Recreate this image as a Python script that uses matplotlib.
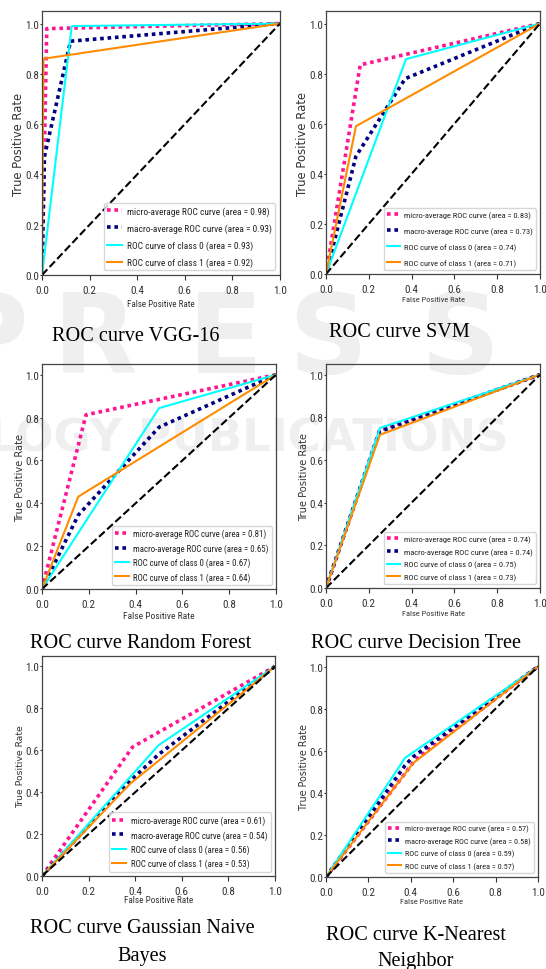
import matplotlib
matplotlib.use("Agg")
import matplotlib.pyplot as plt

W, H = 546, 970
NARROW = ['Liberation Sans Narrow', 'Roboto Condensed', 'DejaVu Sans Condensed', 'Liberation Sans']
SERIF = ['Liberation Serif', 'DejaVu Serif']

# ---------------- data ----------------
series_names = ["micro-average ROC curve", "macro-average ROC curve",
                "ROC curve of class 0", "ROC curve of class 1"]
tick_values = [0.0, 0.2, 0.4, 0.6, 0.8, 1.0]
tick_labels = ["0.0", "0.2", "0.4", "0.6", "0.8", "1.0"]

captions = [["ROC curve VGG-16"], ["ROC curve SVM"],
            ["ROC curve Random Forest"], ["ROC curve Decision Tree"],
            ["ROC curve Gaussian Naive", "Bayes"], ["ROC curve K-Nearest", "Neighbor"]]

# order of curves: micro, macro, class 0, class 1
vgg_fpr = [[0, 0.02, 1], [0, 0.01, 0.12, 1], [0, 0.125, 1], [0, 0.006, 1]]
vgg_tpr = [[0, 0.98, 1], [0, 0.47, 0.93, 1], [0, 0.99, 1], [0, 0.86, 1]]
vgg_area = [0.98, 0.93, 0.93, 0.92]

svm_fpr = [[0, 0.16, 1], [0, 0.14, 0.37, 1], [0, 0.374, 1], [0, 0.14, 1]]
svm_tpr = [[0, 0.835, 1], [0, 0.47, 0.78, 1], [0, 0.858, 1], [0, 0.59, 1]]
svm_area = [0.83, 0.73, 0.74, 0.71]

rf_fpr = [[0, 0.188, 1], [0, 0.155, 0.5, 1], [0, 0.5, 1], [0, 0.155, 1]]
rf_tpr = [[0, 0.813, 1], [0, 0.345, 0.755, 1], [0, 0.844, 1], [0, 0.431, 1]]
rf_area = [0.81, 0.65, 0.67, 0.64]

dt_fpr = [[0, 0.25, 1], [0, 0.25, 1], [0, 0.252, 1], [0, 0.252, 1]]
dt_tpr = [[0, 0.74, 1], [0, 0.733, 1], [0, 0.75, 1], [0, 0.718, 1]]
dt_area = [0.74, 0.74, 0.75, 0.73]

gnb_fpr = [[0, 0.389, 1], [0, 0.38, 0.5, 1], [0, 0.5, 1], [0, 0.378, 1]]
gnb_tpr = [[0, 0.616, 1], [0, 0.455, 0.58, 1], [0, 0.624, 1], [0, 0.44, 1]]
gnb_area = [0.61, 0.54, 0.56, 0.53]

knn_fpr = [[0, 0.42, 1], [0, 0.373, 0.41, 1], [0, 0.373, 1], [0, 0.41, 1]]
knn_tpr = [[0, 0.555, 1], [0, 0.53, 0.57, 1], [0, 0.566, 1], [0, 0.54, 1]]
knn_area = [0.57, 0.58, 0.59, 0.57]

models = [(vgg_fpr, vgg_tpr, vgg_area), (svm_fpr, svm_tpr, svm_area),
          (rf_fpr, rf_tpr, rf_area), (dt_fpr, dt_tpr, dt_area),
          (gnb_fpr, gnb_tpr, gnb_area), (knn_fpr, knn_tpr, knn_area)]

# ---------------- layout (pixels: left, top, right, bottom) ----------------
boxes = [(42, 12, 280, 276), (326, 12, 540, 275),
         (42, 365, 276, 590), (326, 365, 540, 589),
         (42, 657, 275, 877), (326, 657, 538, 878)]
leg_size = [6.75, 6.0, 6.3, 6.0, 6.4, 5.9]
leg_spacing = [0.8, 1.0, 0.55, 0.6, 0.55, 0.6]
ylab_size = [8.3, 8.4, 7.1, 7.1, 6.7, 6.9]
xlab_size = [6.5, 6.0, 6.8, 6.0, 6.6, 6.0]
xlab_off = [25, 23, 23, 23, 20, 22]
cap_x = [136, 399, 141, 416, 142, 416]
cap_base = [[341], [337], [648], [648], [933, 961], [940, 966]]

fig = plt.figure(figsize=(W / 100, H / 100), dpi=100)
fig.patch.set_facecolor('white')

# faint publisher watermark in the background
wm = '#efefef'
for ch, cx in zip("PRESS", [-12, 95, 225, 328, 460]):
    fig.text(cx / W, 1 - 373 / H, ch, fontsize=79, fontweight='bold', color=wm,
             ha='center', va='baseline', family='DejaVu Sans', zorder=-10)
fig.text(-12 / W, 1 - 451 / H, "LOGY PUBLICATIONS", fontsize=32.5, fontweight='bold',
         color=wm, ha='left', va='baseline', family='DejaVu Sans', zorder=-10)

styles = [dict(color='deeppink', lw=2.6, linestyle=(0, (1, 1.05))),
          dict(color='navy', lw=2.6, linestyle=(0, (1, 1.05))),
          dict(color='aqua', lw=1.5),
          dict(color='darkorange', lw=1.5)]

for i in range(6):
    l, t, r, b = boxes[i]
    w, h = r - l, b - t
    ax = fig.add_axes([l / W, 1 - b / H, w / W, h / H])
    ax.patch.set_alpha(0)
    fpr, tpr, area = models[i]
    for k in range(4):
        ax.plot(fpr[k], tpr[k], label=f"{series_names[k]} (area = {area[k]:.2f})", **styles[k])
    ax.plot([0, 1], [0, 1], 'k--', lw=1.5)
    ax.set_xlim(0.0, 1.0)
    ax.set_ylim(0.0, 1.05)
    ax.set_xticks(tick_values, tick_labels)
    ax.set_yticks(tick_values, tick_labels)
    ax.tick_params(axis='x', labelsize=8, labelfontfamily=NARROW, length=3.5, pad=3.5, colors='#333333')
    ax.tick_params(axis='y', labelsize=8, labelfontfamily=NARROW, length=1.6, pad=0.6, colors='#333333')
    for sp in ax.spines.values():
        sp.set_color('#444444')
        sp.set_linewidth(0.9)
    ax.set_xlabel("False Positive Rate", fontsize=xlab_size[i], family=NARROW, color='#333333')
    ax.xaxis.set_label_coords(0.5, -(xlab_off[i] - 1) / h)
    ax.set_ylabel("True Positive Rate", fontsize=ylab_size[i], family='DejaVu Sans', color='#333333')
    ax.yaxis.set_label_coords(-17 / w, 0.5)
    leg = ax.legend(loc='lower right', prop={'family': NARROW, 'size': leg_size[i]},
                    labelspacing=leg_spacing[i], handlelength=1.6, handletextpad=0.5,
                    borderpad=0.35, borderaxespad=0.5)
    for txt in leg.get_texts():
        txt.set_color('#222222')
    for j, line in enumerate(cap_base[i]):
        fig.text(cap_x[i] / W, 1 - line / H, captions[i][j], fontsize=14.6,
                 family=SERIF, ha='center', va='baseline', color='black')

fig.savefig("out.png", dpi=100, facecolor='white')
